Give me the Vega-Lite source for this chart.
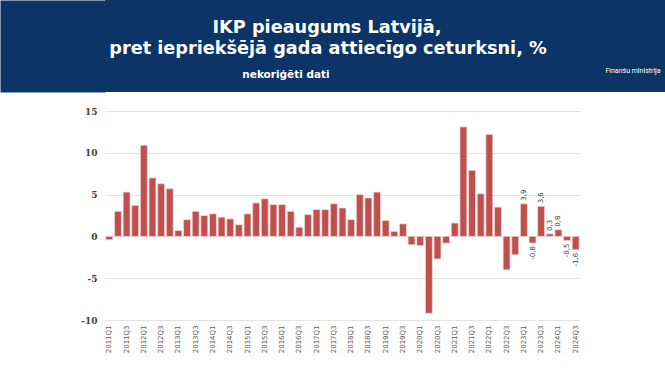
{
  "$schema": "https://vega.github.io/schema/vega-lite/v6.json",
  "padding": 0,
  "background": "white",
  "spacing": 15,
  "config": {
    "locale": {"number": {"decimal": ",", "thousands": " ", "grouping": [3], "currency": ["", " €"], "minus": "-"}},
    "view": {"stroke": null},
    "font": "DejaVu Sans"
  },
  "vconcat": [
    {
      "width": 560,
      "height": 92,
      "view": {"fill": "#0d3466", "stroke": null},
      "data": {"values": [{"t1": "IKP pieaugums Latvijā,", "t2": "pret iepriekšējā gada attiecīgo ceturksni, %", "t3": "nekoriģēti dati", "t4": "Finanšu ministrija"}]},
      "layer": [
        {"mark": {"type": "point", "opacity": 0},
         "encoding": {"y": {"field": "t4", "type": "nominal", "axis": {"title": null, "labels": false, "ticks": false, "grid": false, "domain": true, "domainWidth": 105, "domainColor": "#0d3466", "domainCap": "butt", "offset": 52.5, "minExtent": 0}}}},
        {"mark": {"type": "text", "color": "white", "fontWeight": "bold", "fontSize": 17.7, "font": "DejaVu Sans", "baseline": "middle"},
         "encoding": {"text": {"field": "t1"}, "x": {"value": 222}, "y": {"value": 28}}},
        {"mark": {"type": "text", "color": "white", "fontWeight": "bold", "fontSize": 17.7, "font": "DejaVu Sans", "baseline": "middle"},
         "encoding": {"text": {"field": "t2"}, "x": {"value": 223}, "y": {"value": 49}}},
        {"mark": {"type": "text", "color": "white", "fontWeight": "bold", "fontSize": 10.5, "font": "DejaVu Sans", "baseline": "middle"},
         "encoding": {"text": {"field": "t3"}, "x": {"value": 181}, "y": {"value": 75}}},
        {"mark": {"type": "text", "color": "white", "fontSize": 7, "font": "Roboto", "baseline": "middle"},
         "encoding": {"text": {"field": "t4"}, "x": {"value": 528}, "y": {"value": 71}}}
      ]
    },
    {
      "width": 475,
      "height": 209,
      "data": {"values": [
        {"q": "2011Q1", "v": -0.4}, {"q": "2011Q2", "v": 3.0}, {"q": "2011Q3", "v": 5.3}, {"q": "2011Q4", "v": 3.7},
        {"q": "2012Q1", "v": 10.9}, {"q": "2012Q2", "v": 7.0}, {"q": "2012Q3", "v": 6.3}, {"q": "2012Q4", "v": 5.7},
        {"q": "2013Q1", "v": 0.7}, {"q": "2013Q2", "v": 2.0}, {"q": "2013Q3", "v": 3.0}, {"q": "2013Q4", "v": 2.5},
        {"q": "2014Q1", "v": 2.7}, {"q": "2014Q2", "v": 2.3}, {"q": "2014Q3", "v": 2.1}, {"q": "2014Q4", "v": 1.4},
        {"q": "2015Q1", "v": 2.7}, {"q": "2015Q2", "v": 4.0}, {"q": "2015Q3", "v": 4.5}, {"q": "2015Q4", "v": 3.8},
        {"q": "2016Q1", "v": 3.8}, {"q": "2016Q2", "v": 3.0}, {"q": "2016Q3", "v": 1.1}, {"q": "2016Q4", "v": 2.6},
        {"q": "2017Q1", "v": 3.2}, {"q": "2017Q2", "v": 3.2}, {"q": "2017Q3", "v": 3.9}, {"q": "2017Q4", "v": 3.4},
        {"q": "2018Q1", "v": 2.0}, {"q": "2018Q2", "v": 5.0}, {"q": "2018Q3", "v": 4.6}, {"q": "2018Q4", "v": 5.3},
        {"q": "2019Q1", "v": 1.9}, {"q": "2019Q2", "v": 0.6}, {"q": "2019Q3", "v": 1.5}, {"q": "2019Q4", "v": -1.0},
        {"q": "2020Q1", "v": -1.1}, {"q": "2020Q2", "v": -9.2}, {"q": "2020Q3", "v": -2.7}, {"q": "2020Q4", "v": -0.8},
        {"q": "2021Q1", "v": 1.6}, {"q": "2021Q2", "v": 13.1}, {"q": "2021Q3", "v": 7.9}, {"q": "2021Q4", "v": 5.1},
        {"q": "2022Q1", "v": 12.2}, {"q": "2022Q2", "v": 3.5}, {"q": "2022Q3", "v": -4.0}, {"q": "2022Q4", "v": -2.2},
        {"q": "2023Q1", "v": 3.9}, {"q": "2023Q2", "v": -0.8}, {"q": "2023Q3", "v": 3.6}, {"q": "2023Q4", "v": 0.3},
        {"q": "2024Q1", "v": 0.8}, {"q": "2024Q2", "v": -0.5}, {"q": "2024Q3", "v": -1.6}
      ]},
      "encoding": {
        "x": {
          "field": "q", "type": "ordinal", "sort": null,
          "scale": {"paddingInner": 0.2, "paddingOuter": 0.1},
          "axis": {
            "title": null, "labelAngle": 270, "labelFontSize": 7, "labelColor": "#595959", "labelFont": "DejaVu Sans",
            "ticks": false, "domain": false, "labelPadding": 5, "grid": false,
            "values": ["2011Q1", "2011Q3", "2012Q1", "2012Q3", "2013Q1", "2013Q3", "2014Q1", "2014Q3", "2015Q1", "2015Q3", "2016Q1", "2016Q3", "2017Q1", "2017Q3", "2018Q1", "2018Q3", "2019Q1", "2019Q3", "2020Q1", "2020Q3", "2021Q1", "2021Q3", "2022Q1", "2022Q3", "2023Q1", "2023Q3", "2024Q1", "2024Q3"]
          }
        },
        "y": {
          "field": "v", "type": "quantitative",
          "scale": {"domain": [-10, 15], "nice": false, "zero": true},
          "axis": {
            "values": [-10, -5, 0, 5, 10, 15], "title": null, "domain": false, "ticks": false,
            "grid": true, "gridColor": "#e3e3e3", "gridWidth": 1,
            "labelFont": "DejaVu Serif", "labelFontWeight": "bold", "labelFontSize": 9, "labelColor": "#404040",
            "labelPadding": 8, "minExtent": 105
          }
        }
      },
      "layer": [
        {"mark": {"type": "bar", "color": "#c0504d", "stroke": "#f2dcdb", "strokeWidth": 0.7}},
        {
          "transform": [{"filter": "datum.q >= '2023Q1' && datum.v >= 0"}],
          "mark": {"type": "text", "angle": 270, "align": "left", "baseline": "middle", "dx": 3, "fontSize": 7, "color": "#404040", "font": "DejaVu Sans"},
          "encoding": {"text": {"field": "v", "type": "quantitative", "format": ".1f"}}
        },
        {
          "transform": [{"filter": "datum.q >= '2023Q1' && datum.v < 0"}],
          "mark": {"type": "text", "angle": 270, "align": "right", "baseline": "middle", "dx": -3, "fontSize": 7, "color": "#404040", "font": "DejaVu Sans"},
          "encoding": {"text": {"field": "v", "type": "quantitative", "format": ".1f"}}
        }
      ]
    }
  ]
}
